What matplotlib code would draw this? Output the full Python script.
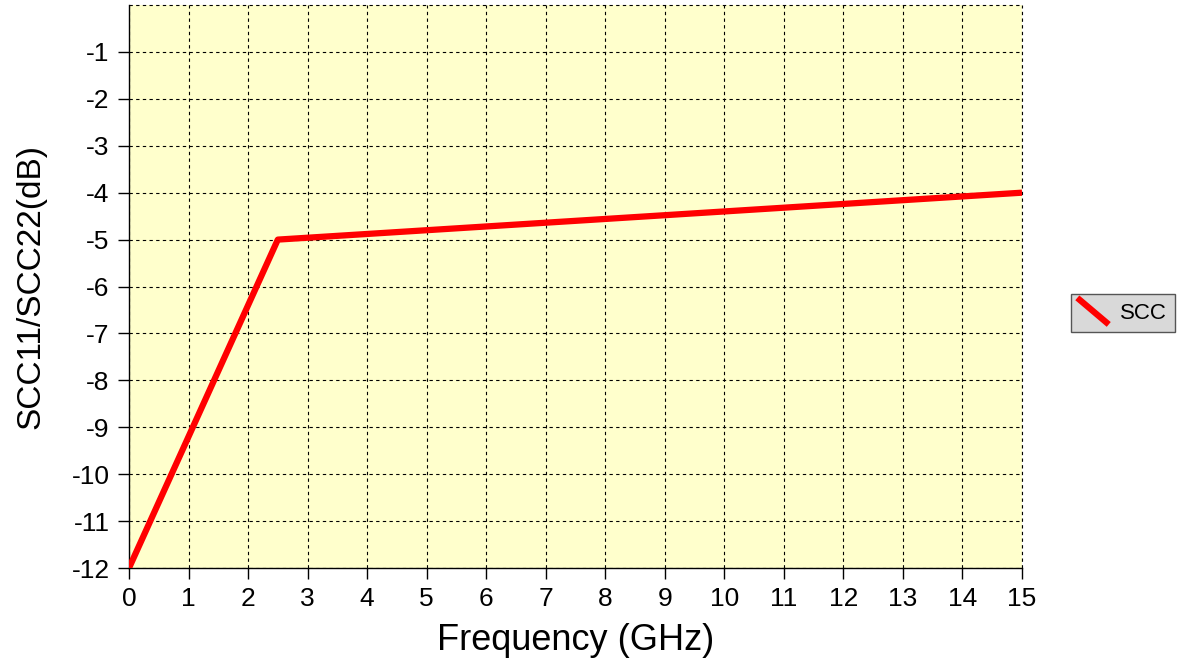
import matplotlib
matplotlib.use("Agg")
import matplotlib.pyplot as plt
from matplotlib.legend_handler import HandlerLine2D
from matplotlib.lines import Line2D

# SCC11/SCC22 limit line vs frequency
freq_ghz = [0, 2.5, 15]
scc_db = [-12, -5, -4]
x_ticks = list(range(0, 16))
y_ticks = list(range(-12, 0))

plt.rcParams["font.family"] = ["Liberation Sans", "DejaVu Sans"]
plt.rcParams["axes.unicode_minus"] = False


class DiagonalHandler(HandlerLine2D):
    # draw the legend key as a short descending diagonal
    def create_artists(self, legend, orig_handle, xdescent, ydescent,
                       width, height, fontsize, trans):
        ln = Line2D([0.0, width], [height * 1.2, -height * 0.25],
                    color=orig_handle.get_color(), lw=orig_handle.get_linewidth(),
                    transform=trans)
        return [ln]


fig = plt.figure(figsize=(11.78, 6.66), dpi=100)
ax = fig.add_axes([0.1095, 0.1471, 0.8676 - 0.1095, 0.9925 - 0.1471])
ax.set_facecolor("#ffffcc")

line, = ax.plot(freq_ghz, scc_db, color="#ff0000", lw=4.5, solid_capstyle="butt",
                label="SCC", zorder=3)

ax.set_xlim(0, 15)
ax.set_ylim(-12, 0)
ax.set_xticks(x_ticks)
ax.set_yticks(y_ticks)
ax.set_yticklabels([f"-{abs(v)}" for v in y_ticks])
ax.grid(True, color="black", ls=(0, (3, 3)), lw=0.8)
ax.spines["top"].set_visible(False)
ax.spines["right"].set_visible(False)
ax.spines["left"].set_linewidth(1.0)
ax.spines["bottom"].set_linewidth(1.0)
ax.tick_params(direction="out", length=8, width=1, labelsize=19, pad=6)
# dashed border on the open sides
ax.axhline(0, color="black", ls=(0, (3, 3)), lw=0.8, clip_on=False)
ax.axvline(15, color="black", ls=(0, (3, 3)), lw=0.8, clip_on=False)

ax.set_xlabel("Frequency (GHz)", fontsize=26, labelpad=8)
ax.set_ylabel("SCC11/SCC22(dB)", fontsize=24, labelpad=18)

leg = fig.legend(handles=[line], loc="center left", bbox_to_anchor=(0.909, 0.530),
                 fontsize=16, frameon=True, fancybox=False, handlelength=1.2,
                 handletextpad=0.6, handler_map={line: DiagonalHandler()},
                 borderpad=0.4, borderaxespad=0)
leg.get_frame().set_facecolor("#d9d9d9")
leg.get_frame().set_edgecolor("#555555")
leg.get_frame().set_linewidth(1.0)
leg.get_frame().set_alpha(1)

fig.savefig("out.png", dpi=100, facecolor="white")
